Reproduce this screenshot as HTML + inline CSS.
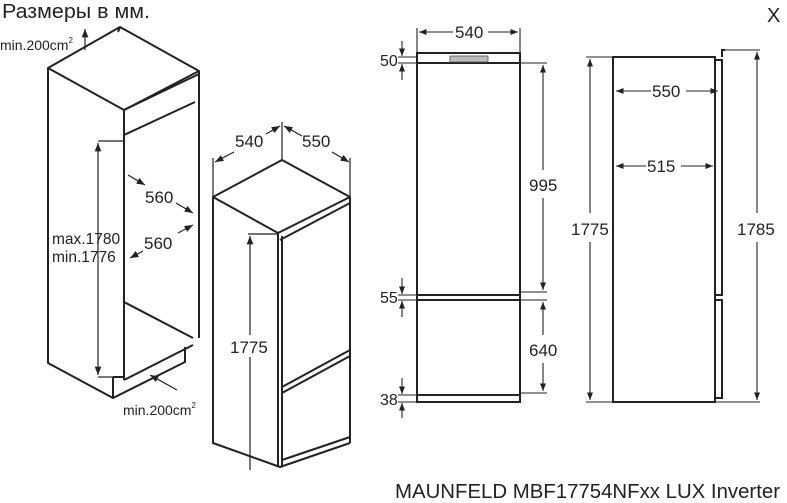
<!DOCTYPE html>
<html><head><meta charset="utf-8"><style>
html,body{margin:0;padding:0;background:#fff;}
svg{display:block;font-family:"Liberation Sans",sans-serif;}
text{fill:#222;}
</style></head><body>
<svg width="787" height="503" viewBox="0 0 787 503" xmlns="http://www.w3.org/2000/svg">
<defs>
<marker id="a" viewBox="0 0 10 10" refX="10" refY="5" markerWidth="7" markerHeight="7" orient="auto-start-reverse"><path d="M0,1 L10,5 L0,9 z" fill="#222"/></marker>
</defs>
<text x="2" y="18" font-size="20" textLength="148" lengthAdjust="spacingAndGlyphs">Размеры в мм.</text>
<text x="767" y="22" font-size="20">X</text>

<!-- Left cabinet -->
<g stroke="#222" stroke-width="2" fill="none" stroke-linejoin="round">
<path d="M48,68 L120,27 L199,71 L124,110 Z"/>
<path d="M120,27 L118,32"/>
<path d="M124,110 L199,74"/>
<path d="M48,68 L48,363 L113,398"/>
<path d="M124,110 L124,380"/>
<path d="M199,71 L199,338"/>
<path d="M124,135 L195,102"/>
<path d="M124,302 L193,338"/>
<path d="M124,380 L193,345"/>
<path d="M113,377 L113,398 L185,362 L185,347"/>
<path d="M113,377 L124,377"/>
</g>
<g stroke="#222" stroke-width="1.2" fill="none">
<line x1="98" y1="141" x2="124" y2="141"/>
<line x1="98" y1="377" x2="113" y2="377"/>
<line x1="98" y1="143" x2="98" y2="375" marker-start="url(#a)" marker-end="url(#a)"/>
<line x1="145" y1="185" x2="128" y2="175" marker-start="url(#a)"/>
<line x1="176" y1="203" x2="193" y2="213" marker-end="url(#a)"/>
<line x1="193" y1="225" x2="178" y2="233" marker-start="url(#a)"/>
<line x1="143" y1="251" x2="130" y2="258" marker-end="url(#a)"/>
<line x1="177" y1="390" x2="150" y2="375" marker-end="url(#a)"/>
<line x1="85" y1="50" x2="85" y2="29" marker-end="url(#a)"/>
</g>
<text x="145" y="203" font-size="17">560</text>
<text x="144" y="249" font-size="17">560</text>
<text x="52" y="244" font-size="15.5">max.1780</text>
<text x="52" y="262" font-size="15.5">min.1776</text>
<text x="0" y="50" font-size="14">min.200cm<tspan font-size="8" dy="-7">2</tspan></text>
<text x="123" y="415" font-size="14">min.200cm<tspan font-size="8" dy="-7">2</tspan></text>

<!-- Middle fridge -->
<g stroke="#222" stroke-width="2" fill="none" stroke-linejoin="round">
<path d="M213,197 L282,160 L350,197 L278,233 Z"/>
<path d="M280,240 L350,203"/>
<path d="M213,197 L213,443 L280,467 L350,443"/>
<path d="M278,233 L278,467"/>
<path d="M282,236 L282,467"/>
<path d="M350,197 L350,443"/>
<path d="M282,387 L350,350"/>
<path d="M282,393 L350,356"/>
<path d="M282,460 L350,437"/>
</g>
<g stroke="#222" stroke-width="1.2" fill="none">
<line x1="213" y1="196" x2="213" y2="158"/>
<line x1="282" y1="160" x2="282" y2="122"/>
<line x1="350" y1="196" x2="350" y2="158"/>
<line x1="215" y1="162" x2="234" y2="152" marker-start="url(#a)"/>
<line x1="266" y1="134" x2="280" y2="126" marker-end="url(#a)"/>
<line x1="284" y1="126" x2="302" y2="136" marker-start="url(#a)"/>
<line x1="332" y1="152" x2="349" y2="162" marker-end="url(#a)"/>
<line x1="250" y1="236" x2="250" y2="335" marker-start="url(#a)"/>
<line x1="250" y1="357" x2="250" y2="470"/>
<line x1="248" y1="234" x2="278" y2="234"/>
</g>
<text x="235" y="147" font-size="17">540</text>
<text x="302" y="147" font-size="17">550</text>
<text x="230" y="353" font-size="17">1775</text>

<!-- Front view -->
<g stroke="#222" stroke-width="2" fill="none">
<rect x="417" y="53" width="103" height="349"/>
<line x1="417" y1="63" x2="520" y2="63"/>
<line x1="417" y1="295" x2="520" y2="295"/>
<line x1="417" y1="300" x2="520" y2="300"/>
<line x1="417" y1="395" x2="520" y2="395"/>
</g>
<rect x="450" y="56" width="38" height="6" fill="#bbb" stroke="#555" stroke-width="0.8"/>
<g stroke="#222" stroke-width="1.1" fill="none">
<line x1="417" y1="28" x2="417" y2="52"/>
<line x1="520" y1="28" x2="520" y2="52"/>
<line x1="419" y1="32" x2="453" y2="32" marker-start="url(#a)"/>
<line x1="488" y1="32" x2="518" y2="32" marker-end="url(#a)"/>
<line x1="398" y1="57" x2="417" y2="57"/>
<line x1="398" y1="63" x2="417" y2="63"/>
<line x1="402" y1="41" x2="402" y2="56" marker-end="url(#a)"/>
<line x1="402" y1="80" x2="402" y2="64" marker-end="url(#a)"/>
<line x1="520" y1="63" x2="547" y2="63"/>
<line x1="520" y1="292" x2="547" y2="292"/>
<line x1="543" y1="65" x2="543" y2="170" marker-start="url(#a)"/>
<line x1="543" y1="198" x2="543" y2="290" marker-end="url(#a)"/>
<line x1="398" y1="295" x2="417" y2="295"/>
<line x1="398" y1="300" x2="417" y2="300"/>
<line x1="402" y1="278" x2="402" y2="294" marker-end="url(#a)"/>
<line x1="402" y1="317" x2="402" y2="301" marker-end="url(#a)"/>
<line x1="520" y1="300" x2="547" y2="300"/>
<line x1="520" y1="393" x2="547" y2="393"/>
<line x1="543" y1="302" x2="543" y2="335" marker-start="url(#a)"/>
<line x1="543" y1="363" x2="543" y2="391" marker-end="url(#a)"/>
<line x1="398" y1="395" x2="417" y2="395"/>
<line x1="398" y1="402" x2="417" y2="402"/>
<line x1="402" y1="378" x2="402" y2="394" marker-end="url(#a)"/>
<line x1="402" y1="418" x2="402" y2="403" marker-end="url(#a)"/>
</g>
<text x="455" y="38" font-size="17">540</text>
<text x="380" y="66" font-size="16">50</text>
<text x="529" y="191" font-size="17">995</text>
<text x="380" y="303" font-size="16">55</text>
<text x="529" y="356" font-size="17">640</text>
<text x="380" y="405" font-size="16">38</text>

<!-- Side view -->
<g stroke="#222" stroke-width="2" fill="none">
<rect x="613" y="57" width="102" height="345"/>
<path d="M715,60 L722,60 L722,295 L715,295"/>
<path d="M715,300 L722,300 L722,398 L715,398"/>
<path d="M722,57 L722,50 L725,50"/>
</g>
<g stroke="#222" stroke-width="1.1" fill="none">
<line x1="586" y1="57" x2="613" y2="57"/>
<line x1="586" y1="402" x2="613" y2="402"/>
<line x1="590" y1="59" x2="590" y2="213" marker-start="url(#a)"/>
<line x1="590" y1="242" x2="590" y2="400" marker-end="url(#a)"/>
<line x1="724" y1="50" x2="760" y2="50"/>
<line x1="715" y1="402" x2="760" y2="402"/>
<line x1="757" y1="52" x2="757" y2="213" marker-start="url(#a)"/>
<line x1="757" y1="242" x2="757" y2="400" marker-end="url(#a)"/>
<line x1="616" y1="91" x2="651" y2="91" marker-start="url(#a)"/>
<line x1="686" y1="91" x2="718" y2="91" marker-end="url(#a)"/>
<line x1="616" y1="166" x2="646" y2="166" marker-start="url(#a)"/>
<line x1="681" y1="166" x2="713" y2="166" marker-end="url(#a)"/>
</g>
<text x="571" y="235" font-size="17">1775</text>
<text x="737" y="235" font-size="17">1785</text>
<text x="652" y="97" font-size="17">550</text>
<text x="647" y="172" font-size="17">515</text>

<text x="395" y="498" font-size="20" textLength="385" lengthAdjust="spacingAndGlyphs">MAUNFELD MBF17754NFxx LUX Inverter</text>
</svg>
</body></html>
